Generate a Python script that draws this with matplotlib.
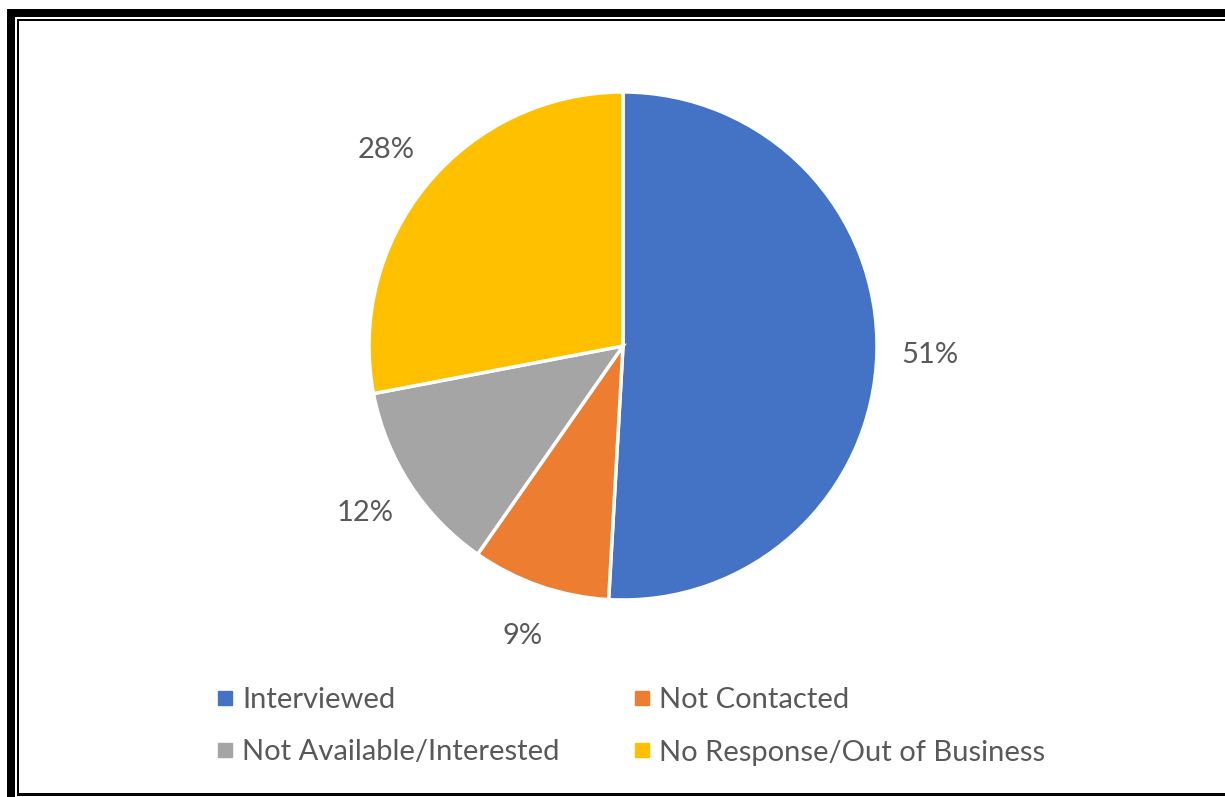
import matplotlib.pyplot as plt
from matplotlib.lines import Line2D
from matplotlib.patches import Rectangle

# survey outcome shares (percent)
categories = ['Interviewed', 'Not Contacted', 'Not Available/Interested',
              'No Response/Out of Business']
shares = [50.9, 8.8, 12.3, 28.0]
colors = ['#4472C4', '#ED7D31', '#A5A5A5', '#FFC000']
text_color = '#595959'

plt.rcParams['font.family'] = ['Lato', 'DejaVu Sans']

W, H = 1225, 797
fig = plt.figure(figsize=(W / 100, H / 100), dpi=100)


def px_box(x0, y0, x1, y1):
    # pixel box (top-left origin) -> figure fraction rect
    return [x0 / W, 1 - y1 / H, (x1 - x0) / W, (y1 - y0) / H]


# pie centred at (623, 346) px, radius 254 px
cx, cy, r = 623, 346, 254
ax = fig.add_axes(px_box(cx - r, cy - r, cx + r, cy + r))
wedges, _, autotexts = ax.pie(
    shares, colors=colors, startangle=90, counterclock=False,
    autopct='%1.0f%%', pctdistance=1.21,
    wedgeprops=dict(edgecolor='white', linewidth=2.5),
    textprops=dict(color=text_color, fontsize=21))
ax.set_xlim(-1, 1)
ax.set_ylim(-1, 1)
ax.axis('off')

handles = [Line2D([], [], marker='s', linestyle='none', markersize=9.5,
                  markerfacecolor=c, markeredgecolor=c) for c in colors]
# order so rows read: Interviewed | Not Contacted, Not Available | No Response
order = [0, 2, 1, 3]
leg = fig.legend([handles[i] for i in order], [categories[i] for i in order],
                 ncol=2, loc='upper left',
                 bbox_to_anchor=(190 / W, 1 - 661 / H),
                 frameon=False, fontsize=21, labelcolor=text_color,
                 handlelength=0.6, handletextpad=0.3,
                 columnspacing=2.5, labelspacing=0.9)

# double frame: thick outer and thin inner rule
k = 'black'
for x0, y0, x1, y1 in [(7, 9, 15, H + 5), (7, 9, W + 5, 17),
                       (17, 19, 18.5, 795), (17, 19, W + 5, 20.5),
                       (17, 793, W + 5, 795.5)]:
    fig.add_artist(Rectangle((x0 / W, 1 - y1 / H), (x1 - x0) / W,
                             (y1 - y0) / H, transform=fig.transFigure,
                             facecolor=k, edgecolor='none'))

fig.savefig('out.png', dpi=100, facecolor='white')
